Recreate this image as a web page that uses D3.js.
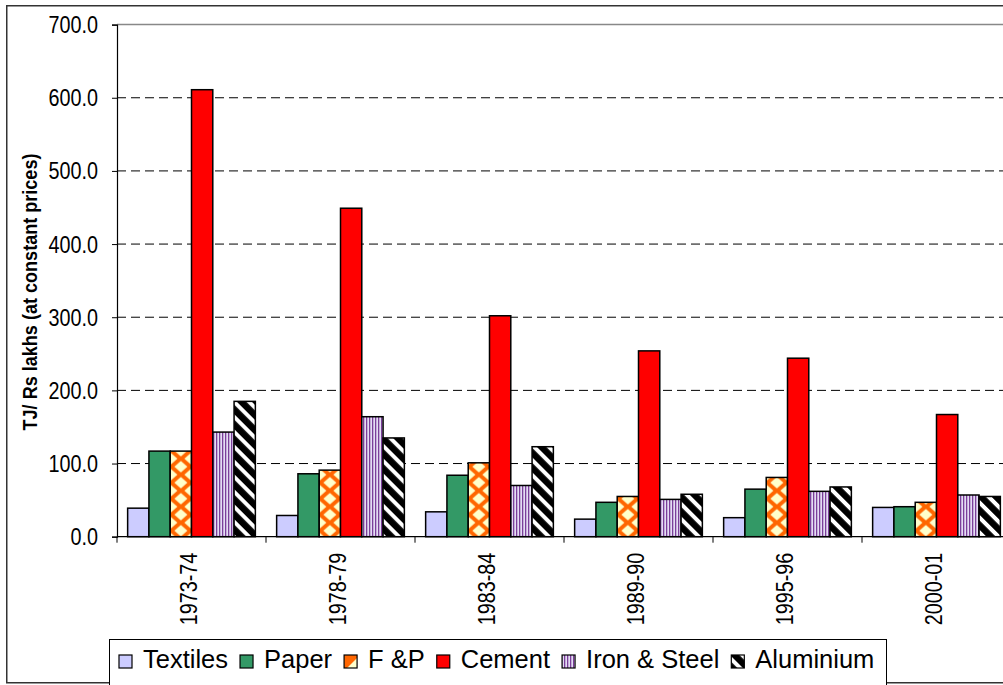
<!DOCTYPE html>
<html><head><meta charset="utf-8">
<script src="https://cdn.jsdelivr.net/npm/d3@7"></script>
<style>body{margin:0;background:#fff}svg{display:block}text{font-family:"Liberation Sans",Arial,sans-serif;fill:#000}</style>
</head><body><svg id="c" width="1003" height="685"></svg>
<script>
const categories = ["1973-74","1978-79","1983-84","1989-90","1995-96","2000-01"];
const seriesNames = ["Textiles","Paper","F &P","Cement","Iron & Steel","Aluminium"];
const textiles = [39,29,34,24,26,40];
const paper = [117,86,84,47,65,41];
const fp = [117,91,101,55,81,47];
const cement = [611,449,302,254,244,167];
const ironSteel = [143,164,70,51,62,57];
const aluminium = [185,135,123,58,68,55];
const yTicks = [0,100,200,300,400,500,600,700];
const yTitle = "TJ/ Rs lakhs (at constant prices)";

const seriesValues = [textiles, paper, fp, cement, ironSteel, aluminium];
const svg = d3.select("#c");
const defs = svg.append("defs");

const left = 117, right = 1011, y0 = 536.7, yTop = 24.6;
const x = d3.scaleBand().domain(categories).range([left, right]).paddingInner(0).paddingOuter(0);
const bw = x.bandwidth();
const x1 = d3.scaleBand().domain(seriesNames).range([0, bw]).paddingInner(0).paddingOuter(0.5);
const y = d3.scaleLinear().domain([0, 700]).range([y0, yTop]);

// patterns
const pw = 20, ph = 16;
function fpPattern(id, offx) {
  const pt = defs.append("pattern").attr("id", id).attr("patternUnits", "userSpaceOnUse")
    .attr("width", pw).attr("height", ph).attr("patternTransform", `translate(${offx},${y0 + 2})`);
  pt.append("rect").attr("width", pw).attr("height", ph).attr("fill", "#FF6600");
  const rx = 6.5, ry = 5.8;
  const dia = (cx, cy) => `M${cx},${cy - ry}L${cx + rx},${cy}L${cx},${cy + ry}L${cx - rx},${cy}Z`;
  [[pw/2, ph/2],[0,0],[pw,0],[0,ph],[pw,ph]].forEach(([cx, cy]) =>
    pt.append("path").attr("d", dia(cx, cy)).attr("fill", "#FFFFCC"));
}
const ip = defs.append("pattern").attr("id", "iron").attr("patternUnits", "userSpaceOnUse").attr("width", 3).attr("height", 3);
ip.append("rect").attr("width", 3).attr("height", 3).attr("fill", "#E4DDF4");
ip.append("rect").attr("width", 1.3).attr("height", 3).attr("fill", "#7B3F9A");
const ap = defs.append("pattern").attr("id", "alu").attr("patternUnits", "userSpaceOnUse")
  .attr("width", 10.6).attr("height", 10.6).attr("patternTransform", "rotate(-45)");
ap.append("rect").attr("width", 10.6).attr("height", 10.6).attr("fill", "#000");
ap.append("rect").attr("x", 6.6).attr("width", 4).attr("height", 10.6).attr("fill", "#fff");

const solidFill = {"Textiles": "#CCCCFF", "Paper": "#339966", "Cement": "#FF0000", "Iron & Steel": "url(#iron)", "Aluminium": "url(#alu)"};

// outer border
svg.append("rect").attr("x", 6.75).attr("y", 5.75).attr("width", 1010).attr("height", 677)
  .attr("fill", "none").attr("stroke", "#333").attr("stroke-width", 1.5);

// gridlines
svg.append("g").selectAll("line").data(yTicks.filter(d => d > 0)).join("line")
  .attr("x1", left).attr("x2", 1003).attr("y1", d => y(d)).attr("y2", d => y(d))
  .attr("stroke", d => d === 700 ? "#888" : "#000")
  .attr("stroke-width", d => d === 700 ? 1.5 : 1)
  .attr("stroke-dasharray", d => d === 700 ? null : "9,5");

// bars
const bars = svg.append("g");
categories.forEach((cat, ci) => {
  seriesNames.forEach((s, si) => {
    const bx = x(cat) + x1(s);
    let fill = solidFill[s];
    if (s === "F &P") {
      const id = "fp" + ci;
      fpPattern(id, bx + x1.bandwidth() / 2 - pw / 2);
      fill = `url(#${id})`;
    }
    const v = seriesValues[si][ci];
    bars.append("rect").attr("x", bx).attr("y", y(v)).attr("width", x1.bandwidth()).attr("height", y0 - y(v))
      .attr("fill", fill).attr("stroke", "#000").attr("stroke-width", 1.5);
  });
});

// y axis
const ya = svg.append("g").attr("transform", `translate(${left},0)`)
  .call(d3.axisLeft(y).tickValues(yTicks).tickSize(5).tickFormat(d3.format(".1f")));
ya.select(".domain").attr("stroke", "#000").attr("stroke-width", 1.2);
ya.selectAll(".tick line").attr("stroke", "#000");
ya.selectAll(".tick text").attr("font-size", 23).attr("font-family", "Liberation Sans, Arial, sans-serif")
  .attr("x", -19 / 0.86).attr("dy", "0.35em").attr("transform", "scale(0.86,1)");

// x axis
const xa = svg.append("g").attr("transform", `translate(0,${y0})`)
  .call(d3.axisBottom(x).tickSize(0).tickFormat(d => d));
xa.select(".domain").attr("stroke", "#000").attr("stroke-width", 1.2).attr("d", `M${left},0H1003`);
xa.selectAll(".tick text").attr("font-size", 23).attr("font-family", "Liberation Sans, Arial, sans-serif")
  .attr("text-anchor", "end").attr("x", 0).attr("y", 0).attr("dy", "0.35em")
  .attr("transform", "translate(-3,16) rotate(-90) scale(0.86,1)");
const edges = categories.map(c => x(c)).concat([x(categories[categories.length - 1]) + bw]).filter(v => v < 1003);
xa.append("g").selectAll("line").data(edges).join("line")
  .attr("x1", d => d).attr("x2", d => d).attr("y1", 0).attr("y2", 6).attr("stroke", "#000");

// y title
svg.append("text").attr("transform", "translate(37,292) rotate(-90) scale(0.86,1)")
  .attr("text-anchor", "middle").attr("font-size", 21).attr("font-weight", "bold").text(yTitle);

// legend
const lg = svg.append("g");
lg.append("rect").attr("x", 109.5).attr("y", 639.5).attr("width", 777).attr("height", 50)
  .attr("fill", "#fff").attr("stroke", "#000").attr("stroke-width", 1);
let lx = 119;
seriesNames.forEach((s, si) => {
  let fill = solidFill[s];
  if (s === "F &P") {
    const pt = defs.append("pattern").attr("id", "fpl").attr("patternUnits", "userSpaceOnUse")
      .attr("width", 13).attr("height", 13).attr("x", lx).attr("y", 655);
    pt.append("rect").attr("width", 13).attr("height", 13).attr("fill", "#FF6600");
    pt.append("path").attr("d", "M13,3L13,13L3,13Z").attr("fill", "#FFFFCC");
    fill = "url(#fpl)";
  }
  lg.append("rect").attr("x", lx).attr("y", 655).attr("width", 13).attr("height", 13)
    .attr("fill", fill).attr("stroke", "#000").attr("stroke-width", 1.2);
  const t = lg.append("text").attr("x", lx + 24).attr("y", 668).attr("font-size", 25.5).text(s);
  lx = lx + 24 + t.node().getComputedTextLength() + 12;
});
</script></body></html>
